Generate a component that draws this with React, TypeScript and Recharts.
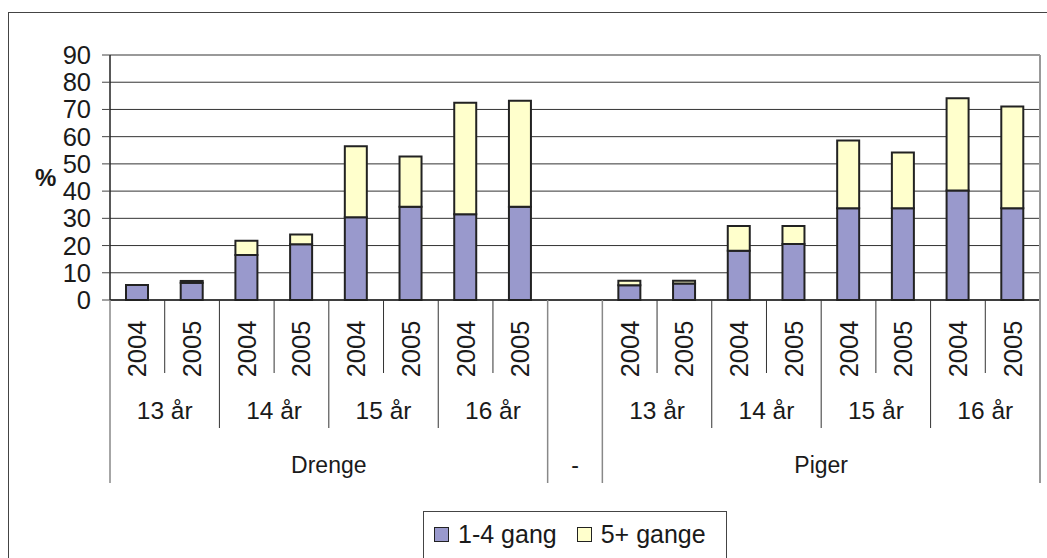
import React from "react";
import {
  BarChart,
  Bar,
  XAxis,
  YAxis,
  CartesianGrid,
  Legend,
  ReferenceLine,
} from "recharts";

// categories: gender / age / survey year ("-" is the empty middle column)
const genders = [
  "Drenge", "Drenge", "Drenge", "Drenge", "Drenge", "Drenge", "Drenge", "Drenge",
  "-",
  "Piger", "Piger", "Piger", "Piger", "Piger", "Piger", "Piger", "Piger",
];
const ages = [
  "13 år", "13 år", "14 år", "14 år", "15 år", "15 år", "16 år", "16 år",
  "",
  "13 år", "13 år", "14 år", "14 år", "15 år", "15 år", "16 år", "16 år",
];
const years = [
  "2004", "2005", "2004", "2005", "2004", "2005", "2004", "2005",
  "",
  "2004", "2005", "2004", "2005", "2004", "2005", "2004", "2005",
];

// percent values
const gang14 = [5.5, 6.3, 16.5, 20.5, 30.4, 34.3, 31.5, 34.3, 0, 5.4, 6.1, 18.1, 20.6, 33.7, 33.7, 40.2, 33.7];
const gang5 = [0, 0.7, 5.3, 3.6, 26.1, 18.4, 41.0, 38.9, 0, 1.7, 1.0, 9.1, 6.6, 24.9, 20.5, 33.9, 37.4];

const yTicks = [0, 10, 20, 30, 40, 50, 60, 70, 80, 90];

const data = years.map((year, i) => ({
  id: `${genders[i]} ${ages[i]} ${year} ${i}`,
  "1-4 gang": gang14[i],
  "5+ gange": gang5[i],
}));

const FONT = "'Liberation Sans', Arial, sans-serif";
const TEXT = "#1a1a1a";

const runLength = (arr: string[], i: number) => {
  let n = 1;
  while (i + n < arr.length && arr[i + n] === arr[i] && genders[i + n] === genders[i]) n++;
  return n;
};

const GroupTick = (props: any) => {
  const { x, y, index, payload, width, visibleTicksCount } = props;
  const half = payload?.offset || width / visibleTicksCount / 2;
  const left = x - half;
  const gStart = index === 0 || genders[index] !== genders[index - 1];
  const aStart = gStart || ages[index] !== ages[index - 1];
  const lineLen = gStart ? 183 : aStart ? 128 : 73;
  const last = index === years.length - 1;

  return (
    <g fontFamily={FONT} fill={TEXT}>
      <line
        x1={left}
        x2={left}
        y1={y}
        y2={y + lineLen}
        stroke={gStart ? "#888" : "#333"}
        strokeWidth={gStart ? 1.5 : 1}
      />
      {last && (
        <line x1={x + half} x2={x + half} y1={y} y2={y + 183} stroke="#999" strokeWidth={2} />
      )}
      {years[index] && (
        <text
          transform={`translate(${x},${y + 49}) rotate(-90)`}
          textAnchor="middle"
          dominantBaseline="central"
          fontSize={25.5}
        >
          {years[index]}
        </text>
      )}
      {aStart && ages[index] && (
        <text
          x={left + runLength(ages, index) * half}
          y={y + 110}
          textAnchor="middle"
          dominantBaseline="central"
          fontSize={24.5}
        >
          {ages[index]}
        </text>
      )}
      {gStart && (
        <text
          x={left + runLength(genders, index) * half}
          y={y + 165}
          textAnchor="middle"
          dominantBaseline="central"
          fontSize={23}
        >
          {genders[index]}
        </text>
      )}
    </g>
  );
};

const LegendBox = (props: any) => {
  const items = props.payload || [];
  return (
    <div
      style={{
        border: "1px solid #444",
        background: "#fff",
        height: "100%",
        boxSizing: "border-box",
        display: "flex",
        alignItems: "flex-start",
        paddingTop: 8,
        paddingLeft: 10,
        fontFamily: FONT,
        fontSize: 25,
        color: TEXT,
      }}
    >
      {items.map((it: any) => (
        <div key={it.value} style={{ display: "flex", alignItems: "center", marginRight: 20 }}>
          <span
            style={{
              display: "inline-block",
              width: 13,
              height: 13,
              background: it.color,
              border: "1.5px solid #222",
              marginRight: 9,
            }}
          />
          <span>{it.value}</span>
        </div>
      ))}
    </div>
  );
};

export default function App() {
  return (
    <div style={{ position: "absolute", left: 0, top: 0, width: 1047, height: 558, overflow: "hidden", background: "#fff" }}>
      <div
        style={{
          position: "absolute",
          left: 8,
          top: 12,
          width: 1060,
          height: 570,
          border: "1.5px solid #444",
        }}
      />
      <BarChart
        width={1047}
        height={558}
        data={data}
        margin={{ top: 55, right: 6, left: 0, bottom: 0 }}
        barSize={22}
      >
        <CartesianGrid vertical={false} stroke="#333" strokeWidth={1} />
        <XAxis
          dataKey="id"
          interval={0}
          height={258}
          tickSize={0}
          tickMargin={0}
          tickLine={false}
          axisLine={{ stroke: "#222", strokeWidth: 1.5 }}
          tick={<GroupTick />}
        />
        <YAxis
          width={110}
          domain={[0, 90]}
          ticks={yTicks}
          interval={0}
          tickSize={8}
          tickMargin={11}
          axisLine={{ stroke: "#222", strokeWidth: 1.5 }}
          tickLine={{ stroke: "#444" }}
          tick={{ fontFamily: FONT, fontSize: 25.5, fill: TEXT }}
          label={{
            value: "%",
            position: "insideLeft",
            offset: 35,
            style: { fontFamily: FONT, fontSize: 24, fontWeight: "bold", fill: TEXT },
          }}
        />
        <YAxis
          yAxisId="r"
          orientation="right"
          width={1}
          domain={[0, 90]}
          tick={false}
          tickLine={false}
          axisLine={{ stroke: "#999", strokeWidth: 2 }}
        />
        <ReferenceLine y={90} stroke="#999" strokeWidth={2} />
        <Legend
          layout="horizontal"
          verticalAlign="middle"
          align="center"
          wrapperStyle={{ top: 511, left: 423, width: 304, height: 60 }}
          content={<LegendBox />}
        />
        <Bar dataKey="1-4 gang" stackId="a" fill="#9999cc" stroke="#222" strokeWidth={2} isAnimationActive={false} />
        <Bar dataKey="5+ gange" stackId="a" fill="#ffffcc" stroke="#222" strokeWidth={2} isAnimationActive={false} />
      </BarChart>
    </div>
  );
}
